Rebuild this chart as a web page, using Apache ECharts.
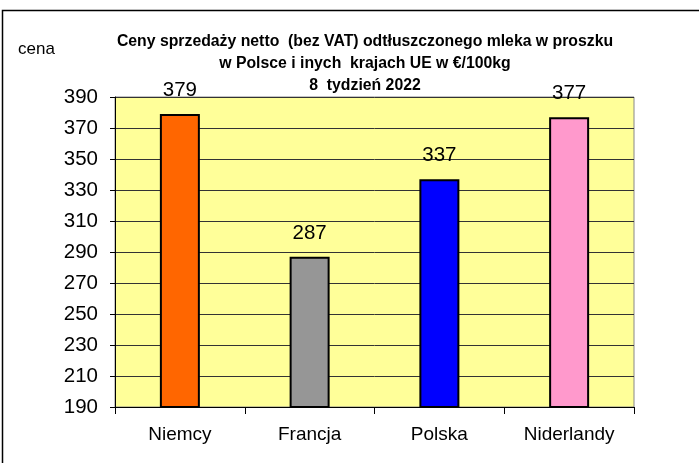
<!DOCTYPE html>
<html>
<head>
<meta charset="utf-8">
<script src="https://cdn.jsdelivr.net/npm/echarts@6/dist/echarts.min.js"></script>
<style>
html, body { margin: 0; padding: 0; background: #fff; }
#chart { width: 699px; height: 463px; }
</style>
</head>
<body>
<div id="chart"></div>
<script>
// dane z wykresu
var kraje = ['Niemcy', 'Francja', 'Polska', 'Niderlandy'];
var ceny = [379, 287, 337, 377];
var kolory = ['#FF6600', '#969696', '#0000FF', '#FF99CC'];
var tytul = ['Ceny sprzedaży netto  (bez VAT) odtłuszczonego mleka w proszku',
             'w Polsce i inych  krajach UE w €/100kg',
             '8  tydzień 2022'];

var myChart = echarts.init(document.getElementById('chart'));
myChart.setOption({
    backgroundColor: '#fff',
    animation: false,
    title: {
        text: tytul.join('\n'),
        left: 360,
        textAlign: 'center',
        top: 26,
        textStyle: {
            fontFamily: 'Liberation Sans',
            fontSize: 15.8,
            fontWeight: 'bold',
            color: '#000',
            lineHeight: 22
        }
    },
    graphic: [
        {
            type: 'polyline',
            shape: { points: [[699, 10.5], [2.5, 10.5], [2.5, 463]] },
            style: { stroke: '#000', lineWidth: 1.5, fill: null }
        },
        {
            type: 'text',
            left: 18,
            top: 41,
            style: { text: 'cena', fontFamily: 'Liberation Sans', fontSize: 17, fill: '#000' }
        }
    ],
    grid: {
        left: 115,
        right: 65,
        top: 97,
        bottom: 56,
        show: true,
        backgroundColor: '#FFFF99',
        borderColor: '#888',
        borderWidth: 1
    },
    xAxis: {
        type: 'category',
        data: kraje,
        axisLine: { lineStyle: { color: '#000', width: 1 } },
        axisTick: { show: true, length: 7, lineStyle: { color: '#000' } },
        axisLabel: {
            interval: 0,
            margin: 18,
            fontFamily: 'Liberation Sans',
            fontSize: 19,
            color: '#000'
        }
    },
    yAxis: {
        type: 'value',
        min: 190,
        max: 390,
        interval: 20,
        axisLine: { show: true, lineStyle: { color: '#000', width: 1 } },
        axisTick: { show: true, length: 5, lineStyle: { color: '#000' } },
        axisLabel: {
            margin: 17,
            fontFamily: 'Liberation Sans',
            fontSize: 20.5,
            color: '#000'
        },
        splitLine: { show: true, lineStyle: { color: '#333', width: 1 } }
    },
    series: [{
        type: 'bar',
        data: ceny.map(function (v, i) {
            return { value: v, itemStyle: { color: kolory[i] } };
        }),
        barWidth: 40,
        itemStyle: { borderColor: '#000', borderWidth: 2 },
        label: {
            show: true,
            position: 'top',
            distance: 13,
            fontFamily: 'Liberation Sans',
            fontSize: 20.5,
            color: '#000'
        }
    }]
});
</script>
</body>
</html>
